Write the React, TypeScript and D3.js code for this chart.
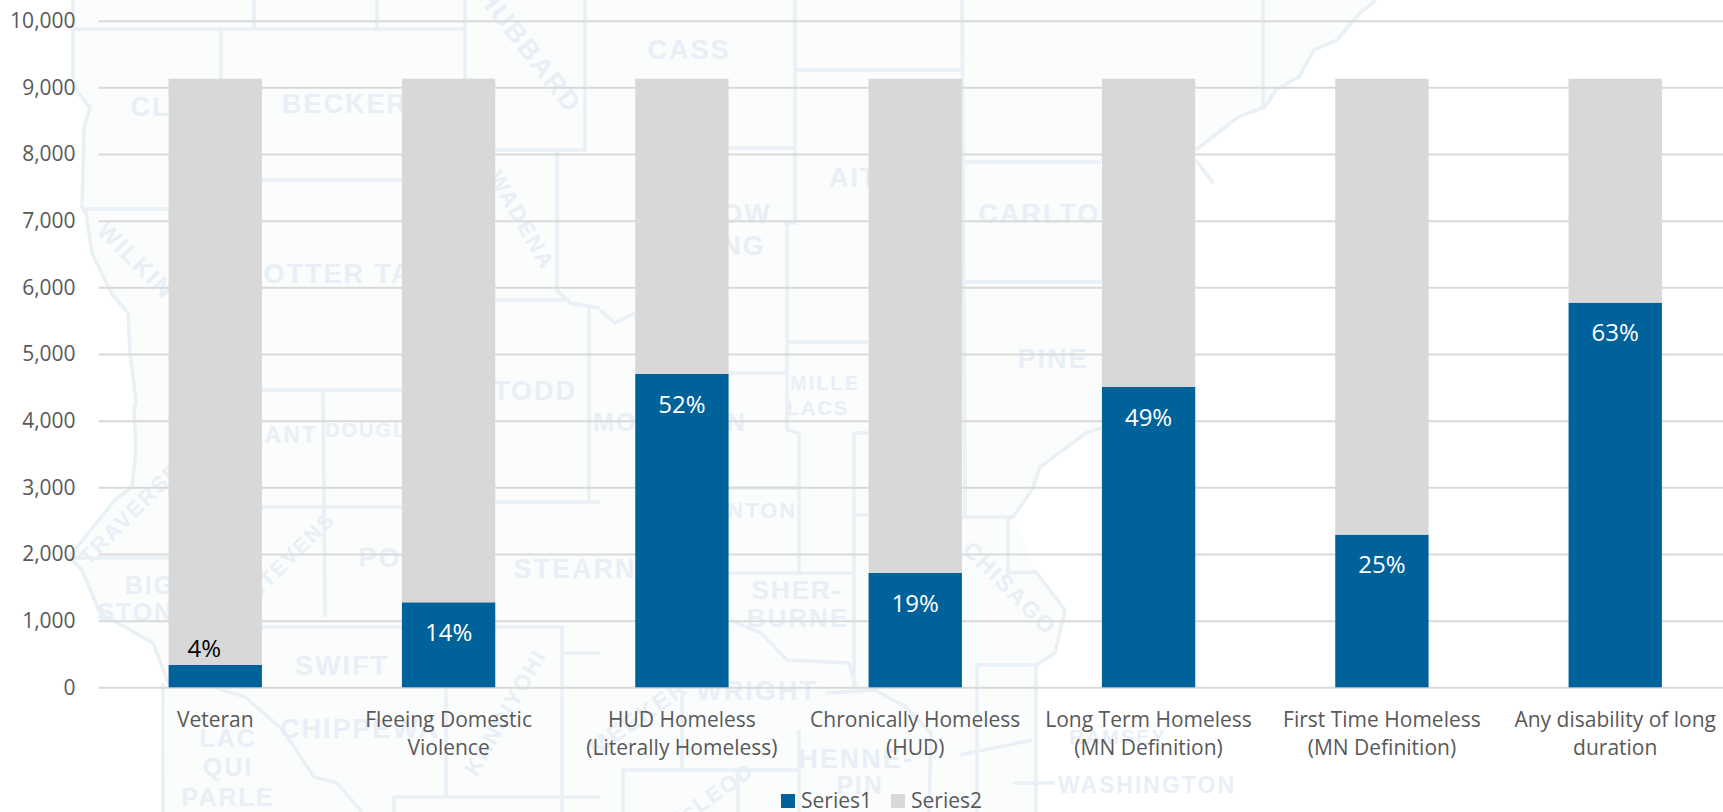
import React, { useRef, useEffect } from 'react';
import * as d3 from 'd3';

const categories = ['Veteran', 'Fleeing Domestic Violence', 'HUD Homeless (Literally Homeless)', 'Chronically Homeless (HUD)', 'Long Term Homeless (MN Definition)', 'First Time Homeless (MN Definition)', 'Any disability of long duration'];
const categoryLines = [['Veteran'], ['Fleeing Domestic', 'Violence'], ['HUD Homeless', '(Literally Homeless)'], ['Chronically Homeless', '(HUD)'], ['Long Term Homeless', '(MN Definition)'], ['First Time Homeless', '(MN Definition)'], ['Any disability of long', 'duration']];
const series1 = [335, 1275, 4700, 1715, 4505, 2290, 5770];
const series2 = [8795, 7855, 4430, 7415, 4625, 6840, 3360];
const percentLabels = ['4%', '14%', '52%', '19%', '49%', '25%', '63%'];
const yTicks = [0, 1000, 2000, 3000, 4000, 5000, 6000, 7000, 8000, 9000, 10000];
const seriesNames = ['Series1', 'Series2'];
const seriesColors = ['#00629b', '#d8d8d8'];

// faint county map behind the chart
const mapOutline: [number, number][] = [[73, 0], [73, 80], [78, 93], [90, 107], [84, 127], [82, 208], [86, 213], [92, 253], [111, 293], [128, 313], [130, 353], [136, 400], [134, 410], [136, 450], [132, 487], [115, 500], [69, 557], [82, 570], [100, 613], [153, 643], [168, 683], [163, 812], [1036, 812], [1036, 665], [1055, 653], [1065, 610], [1036, 572], [1013, 517], [1032, 490], [1040, 467], [1086, 433], [1150, 400], [1150, 200], [1196, 150], [1238, 117], [1265, 107], [1276, 90], [1299, 77], [1314, 50], [1337, 40], [1360, 13], [1376, 0]];
const mapLines: [number, number][][] = [
  [[73, 0], [73, 80], [78, 93], [90, 107], [84, 127], [82, 208], [86, 213], [92, 253], [111, 293], [128, 313], [130, 353], [136, 400], [134, 410], [136, 450], [132, 487], [115, 500], [69, 557], [82, 570], [100, 613], [153, 643], [168, 683], [214, 687], [245, 697], [283, 730], [314, 777], [337, 783], [362, 812]],
  [[73, 29], [463, 29]], [[254, 0], [254, 29]], [[377, 0], [377, 29]], [[465, 0], [465, 150]], [[221, 29], [221, 80]], [[585, 0], [585, 150], [495, 150]],
  [[82, 209], [169, 209]], [[262, 180], [402, 180]], [[557, 150], [557, 290], [570, 303], [600, 308]], [[495, 300], [570, 300]], [[589, 308], [589, 500]],
  [[262, 390], [402, 390]], [[323, 390], [325, 617]], [[69, 558], [169, 558]], [[262, 507], [402, 507]], [[495, 502], [600, 502]],
  [[262, 627], [562, 627], [562, 812]], [[446, 687], [446, 797]], [[394, 812], [394, 797], [600, 797]], [[562, 653], [600, 653]], [[163, 683], [163, 812]],
  [[795, 0], [795, 223], [784, 223]], [[962, 0], [965, 517]], [[795, 70], [962, 70]], [[728, 148], [795, 148]], [[787, 223], [787, 430], [799, 433], [799, 573]],
  [[787, 342], [868, 342]], [[728, 373], [787, 373]], [[965, 162], [1101, 162]], [[965, 282], [1101, 282]], [[600, 310], [615, 323], [635, 313]],
  [[854, 433], [854, 687]], [[854, 433], [868, 433]], [[728, 488], [799, 488]], [[728, 573], [854, 573]], [[730, 620], [761, 633], [787, 660], [849, 663], [856, 687]],
  [[854, 515], [868, 515]], [[962, 517], [1013, 517], [1032, 490], [1040, 467], [1086, 433], [1101, 428]], [[1008, 517], [1008, 575]],
  [[1006, 573], [1036, 572], [1065, 610], [1055, 653], [1036, 665], [977, 665], [977, 812]], [[1036, 665], [1036, 812]],
  [[826, 693], [875, 690], [906, 707], [931, 733], [929, 812]], [[799, 730], [799, 812]], [[682, 690], [682, 770]], [[621, 770], [799, 770]], [[623, 770], [623, 812]], [[738, 770], [738, 812]],
  [[960, 755], [1032, 740]], [[1013, 783], [1055, 783]],
  [[1376, 0], [1360, 13], [1337, 40], [1314, 50], [1299, 77], [1276, 90], [1265, 107], [1238, 117], [1196, 150]], [[1196, 160], [1213, 183]], [[1263, 0], [1263, 107]],
];
const mapLabels: [string, number, number, number, number][] = [
  ['CLAY', 170, 106, 0, 27], ['BECKER', 345, 103, 0, 27], ['HUBBARD', 530, 50, 52, 27], ['CASS', 689, 49, 0, 27], ['WILKIN', 136, 260, 45, 24], ['OTTER TAIL', 352, 273, 0, 27], ['WADENA', 522, 220, 60, 22],
  ['AITKIN', 880, 177, 0, 27], ['CROW', 725, 213, 0, 27], ['WING', 725, 245, 0, 27], ['CARLTON', 1050, 213, 0, 27], ['PINE', 1053, 358, 0, 27], ['TODD', 535, 390, 0, 27], ['MILLE', 825, 383, 0, 20], ['LACS', 818, 408, 0, 20],
  ['MORRISON', 670, 422, 0, 25], ['GRANT', 272, 435, 0, 23], ['DOUGLAS', 382, 430, 0, 20], ['TRAVERSE', 130, 513, -45, 22], ['STEVENS', 291, 555, -45, 21], ['BIG', 150, 585, 0, 25], ['STONE', 145, 612, 0, 25], ['POPE', 400, 557, 0, 27],
  ['STEARNS', 585, 568, 0, 27], ['BENTON', 745, 510, 0, 22], ['SHER-', 797, 590, 0, 26], ['BURNE', 798, 618, 0, 26], ['CHISAGO', 1010, 588, 45, 23], ['SWIFT', 342, 665, 0, 27], ['KANDIYOHI', 505, 712, -60, 22],
  ['WRIGHT', 757, 690, 0, 27], ['MEEKER', 638, 717, -35, 24], ['CHIPPEWA', 360, 728, 0, 27], ['LAC', 228, 738, 0, 25], ['QUI', 228, 767, 0, 25], ['PARLE', 228, 797, 0, 25], ['HENNE-', 856, 758, 0, 27], ['PIN', 860, 785, 0, 25],
  ['RAMSEY', 1118, 737, 0, 20], ['WASHINGTON', 1147, 785, 0, 23], ['McLEOD', 709, 797, -35, 22],
];

const width = 1723;
const height = 812;
const font = '"Open Sans", "Noto Sans", sans-serif';

const App: React.FC = () => {
  const svgRef = useRef<SVGSVGElement>(null);

  useEffect(() => {
    if (!svgRef.current) return;
    const svg = d3.select(svgRef.current);
    svg.selectAll('*').remove();

    const x = d3.scaleBand<string>().domain(categories).range([98.6, 1731.9]).paddingInner(0.6).paddingOuter(0.3);
    const y = d3.scaleLinear().domain([0, 10000]).range([687.3, 20.7]);

    // Background map
    const map = svg.append('g');
    const line = d3.line();
    map.append('path').attr('d', line(mapOutline) + 'Z').attr('fill', '#fbfcfc');
    mapLines.forEach(l => {
      map.append('path').attr('d', line(l)).attr('fill', 'none').attr('stroke', '#e9f0f6').attr('stroke-width', 3.5);
    });
    mapLabels.forEach(([t, lx, ly, rot, size]) => {
      map.append('text')
        .attr('transform', `translate(${lx},${ly}) rotate(${rot})`)
        .attr('text-anchor', 'middle')
        .attr('dy', '0.36em')
        .attr('font-family', '"Liberation Sans", sans-serif')
        .attr('font-size', size)
        .attr('font-weight', 700)
        .attr('letter-spacing', 2)
        .attr('fill', '#e8eff6')
        .text(t);
    });

    // Gridlines and y axis labels
    const yAxis = svg.append('g').attr('transform', 'translate(98.6,0)')
      .call(d3.axisLeft(y).tickValues(yTicks).tickSize(0).tickPadding(23).tickFormat(d => d3.format(',')(d as number)));
    yAxis.select('.domain').remove();
    yAxis.selectAll('text').attr('font-family', font).attr('font-size', 21).attr('fill', '#595959');
    yAxis.selectAll('.tick').append('line')
      .attr('x1', 0).attr('x2', width).attr('stroke', '#d9d9d9').attr('stroke-width', 2);

    // Stacked bars
    const rows = categories.map((c, i) => ({ c, Series1: series1[i], Series2: series2[i] }));
    const stacked = d3.stack<any>().keys(seriesNames)(rows);
    stacked.forEach((layer, si) => {
      svg.append('g').selectAll('rect').data(layer).join('rect')
        .attr('x', (d: any) => x(d.data.c)!)
        .attr('width', x.bandwidth())
        .attr('y', d => y(d[1]))
        .attr('height', d => y(d[0]) - y(d[1]))
        .attr('fill', seriesColors[si]);
    });

    // Value labels, inside the top of each blue bar; the first sits above its short bar
    categories.forEach((c, i) => {
      const isShort = series1[i] < 500;
      svg.append('text')
        .attr('x', x(c)! + x.bandwidth() / 2 + (isShort ? -11 : 0))
        .attr('y', y(series1[i]) + (isShort ? -17 : 30))
        .attr('dy', '0.36em')
        .attr('text-anchor', 'middle')
        .attr('font-family', font)
        .attr('font-size', 24)
        .attr('fill', isShort ? '#000000' : '#ffffff')
        .text(percentLabels[i]);
    });

    // Category labels
    categories.forEach((c, i) => {
      categoryLines[i].forEach((t, li) => {
        svg.append('text')
          .attr('x', x(c)! + x.bandwidth() / 2)
          .attr('y', 719 + li * 28.7)
          .attr('dy', '0.36em')
          .attr('text-anchor', 'middle')
          .attr('font-family', font)
          .attr('font-size', 21)
          .attr('fill', '#595959')
          .text(t);
      });
    });

    // Legend
    const legendX = d3.scalePoint<string>().domain(seriesNames).range([781, 891]);
    seriesNames.forEach((s, i) => {
      svg.append('rect').attr('x', legendX(s)!).attr('y', 794).attr('width', 14).attr('height', 14).attr('fill', seriesColors[i]);
      svg.append('text')
        .attr('x', legendX(s)! + 20)
        .attr('y', 800)
        .attr('dy', '0.36em')
        .attr('font-family', font)
        .attr('font-size', 21)
        .attr('fill', '#595959')
        .text(s);
    });
  }, []);

  return (
    <svg
      ref={svgRef}
      width={width}
      height={height}
      style={{ position: 'absolute', left: 0, top: 0, background: '#ffffff', overflow: 'hidden' }}
    />
  );
};

export default App;
